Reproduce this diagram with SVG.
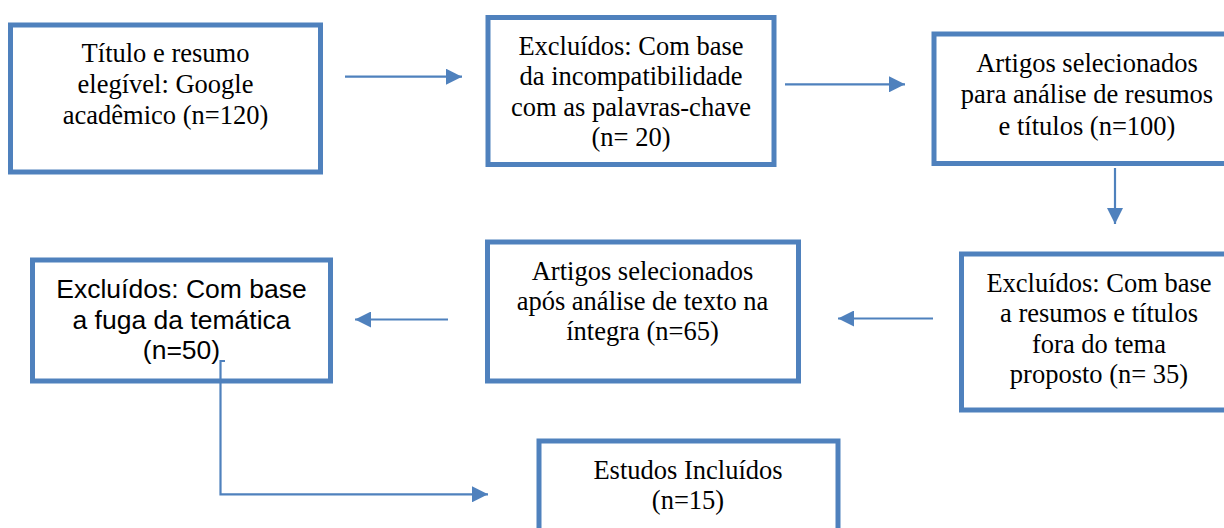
<svg xmlns="http://www.w3.org/2000/svg" width="1224" height="528" viewBox="0 0 1224 528">
<style>
.box{fill:#fff;stroke:#4F81BD;stroke-width:5}
.t{font-family:"Liberation Serif","Times New Roman",serif;font-size:26.5px;fill:#000;text-anchor:middle}
.s{font-family:"Liberation Sans",Arial,sans-serif;font-size:26.5px;fill:#000;text-anchor:middle}
.c{fill:none;stroke:#4F81BD;stroke-width:2.2}
</style>
<defs>
<marker id="ah" markerUnits="userSpaceOnUse" markerWidth="16" markerHeight="16" refX="15" refY="7.5" orient="auto" viewBox="0 0 15 15">
<path d="M0,0 L15,7.5 L0,15 z" fill="#4F81BD"/>
</marker>
</defs>
<rect width="1224" height="528" fill="#fff"/>
<g id="n1">
<rect class="box" x="10.5" y="25" width="310" height="147"/>
<text class="t" x="165.5" y="62">Título e resumo</text>
<text class="t" x="165.5" y="93">elegível: Google</text>
<text class="t" x="165.5" y="124">acadêmico (n=120)</text>
</g>
<g id="n2">
<rect class="box" x="488" y="17.5" width="286" height="147"/>
<text class="t" x="631" y="55">Excluídos: Com base</text>
<text class="t" x="631" y="85">da incompatibilidade</text>
<text class="t" x="631" y="115.5">com as palavras-chave</text>
<text class="t" x="631" y="146">(n= 20)</text>
</g>
<g id="n3">
<rect class="box" x="934" y="34" width="306" height="129.5"/>
<text class="t" x="1087" y="71.5">Artigos selecionados</text>
<text class="t" x="1087" y="103">para análise de resumos</text>
<text class="t" x="1087" y="135">e títulos (n=100)</text>
</g>
<g id="n4">
<rect class="box" x="32.5" y="260" width="298" height="121"/>
<text class="s" x="181.5" y="298">Excluídos: Com base</text>
<text class="s" x="181.5" y="328.5">a fuga da temática</text>
<text class="s" x="181.5" y="359">(n=50)</text>
</g>
<g id="n5">
<rect class="box" x="487.5" y="242" width="311" height="139"/>
<text class="t" x="642.5" y="280">Artigos selecionados</text>
<text class="t" x="642.5" y="310">após análise de texto na</text>
<text class="t" x="642.5" y="340">íntegra (n=65)</text>
</g>
<g id="n6">
<rect class="box" x="961.5" y="254" width="280" height="156"/>
<text class="t" x="1099" y="291.5">Excluídos: Com base</text>
<text class="t" x="1099" y="321.5">a resumos e títulos</text>
<text class="t" x="1099" y="352.5">fora do tema</text>
<text class="t" x="1099" y="383">proposto (n= 35)</text>
</g>
<g id="n7">
<rect class="box" x="539" y="441" width="299" height="120"/>
<text class="t" x="688" y="479">Estudos Incluídos</text>
<text class="t" x="688" y="509">(n=15)</text>
</g>
<g id="connectors">
<line class="c" x1="345" y1="76.7" x2="462" y2="76.7" marker-end="url(#ah)"/>
<line class="c" x1="785" y1="84.3" x2="905" y2="84.3" marker-end="url(#ah)"/>
<line class="c" x1="1115" y1="168" x2="1115" y2="224" marker-end="url(#ah)"/>
<line class="c" x1="933" y1="318.5" x2="838" y2="318.5" marker-end="url(#ah)"/>
<line class="c" x1="448" y1="319.5" x2="355" y2="319.5" marker-end="url(#ah)"/>
<path class="c" d="M225,361 H220.5 V494.3 H488" marker-end="url(#ah)"/>
</g>
</svg>
